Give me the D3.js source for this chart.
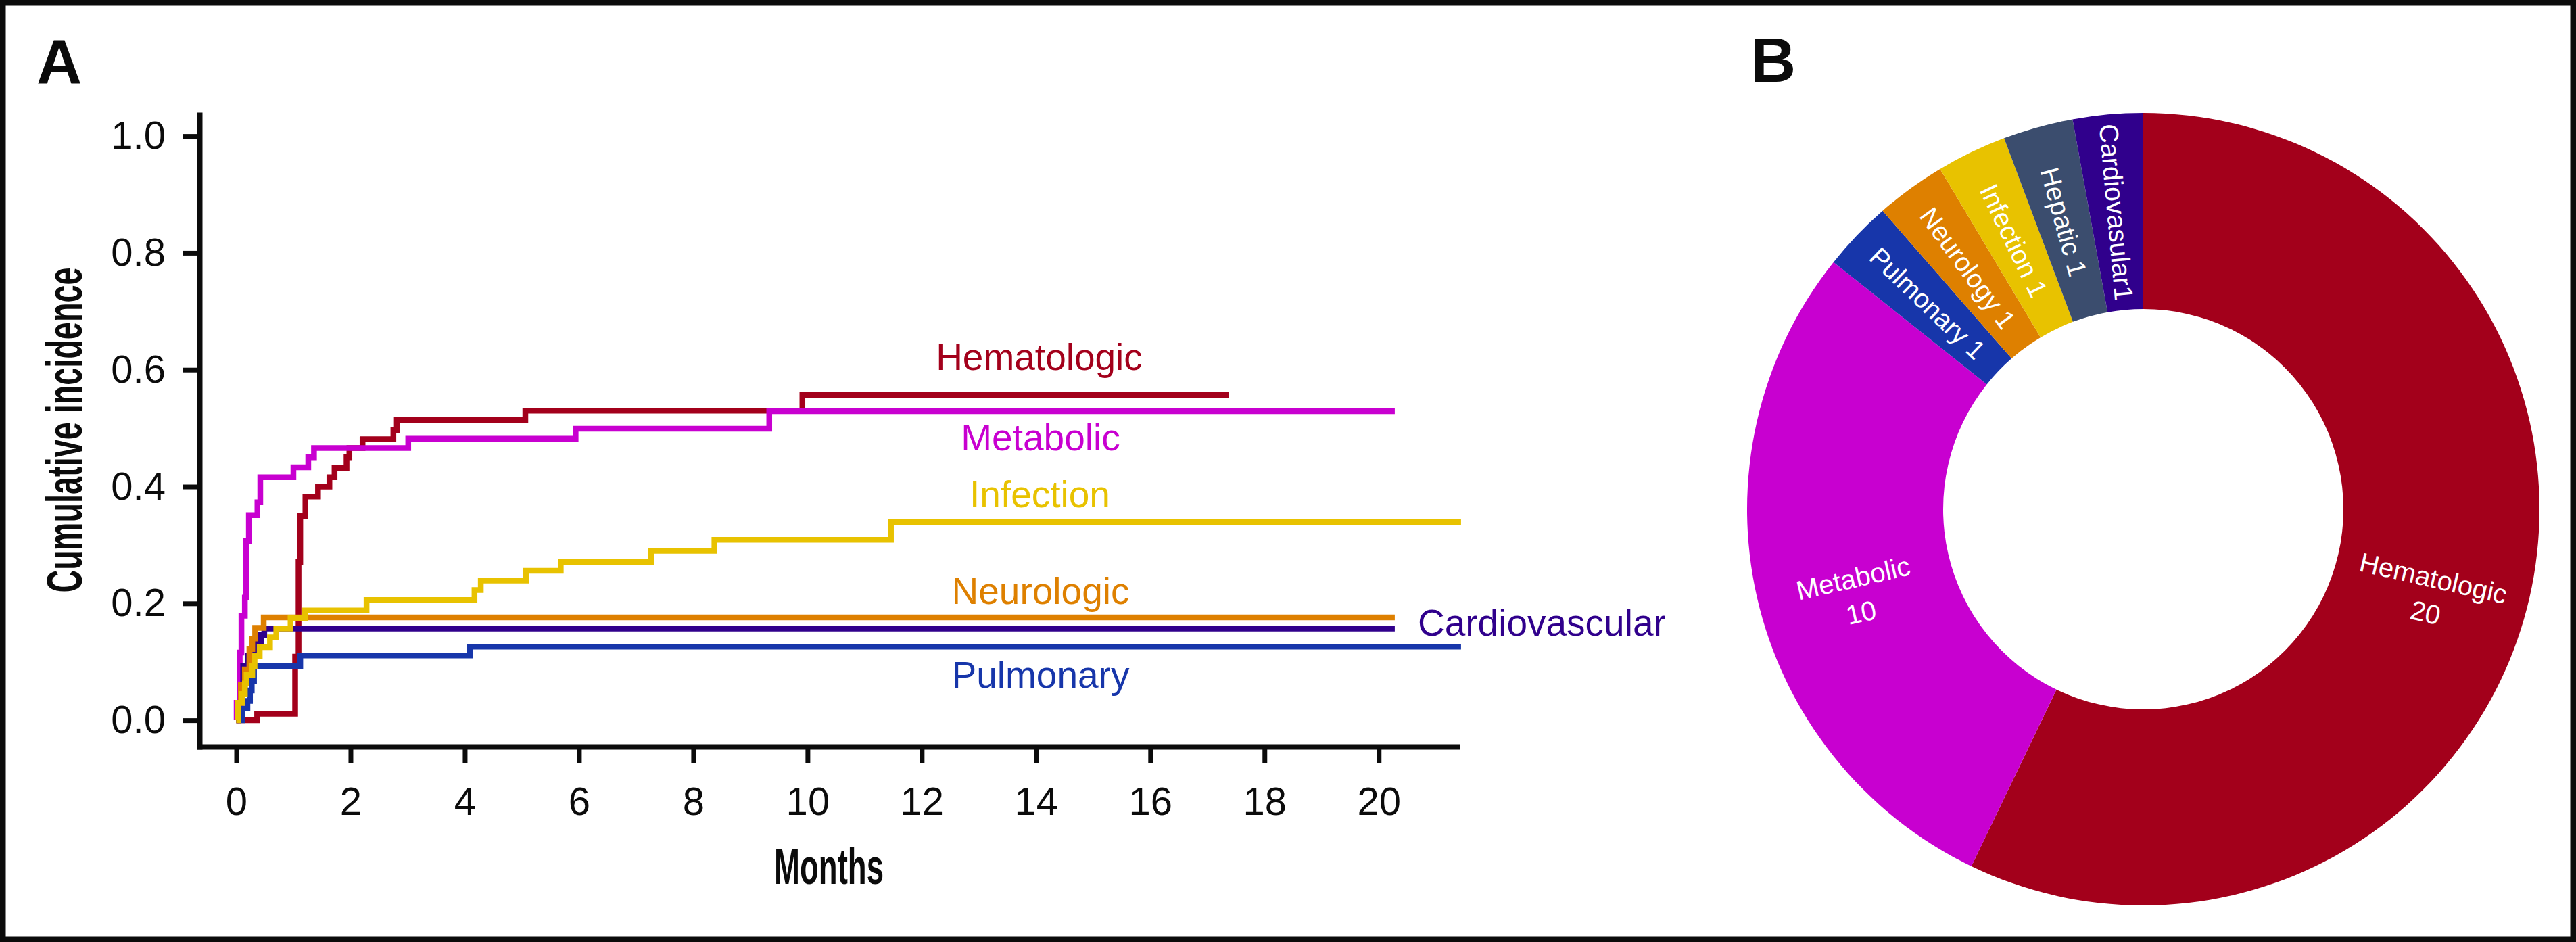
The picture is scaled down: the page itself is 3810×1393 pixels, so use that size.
<!DOCTYPE html>
<html>
<head>
<meta charset="utf-8">
<script src="https://cdn.jsdelivr.net/npm/d3@7"></script>
<style>
  html, body { margin: 0; padding: 0; background: #ffffff; }
  svg { display: block; }
  text { font-family: "Liberation Sans", Arial, Helvetica, sans-serif; }
  .cond { font-family: "Liberation Sans Narrow", "Arial Narrow", "Liberation Sans", sans-serif; font-weight: bold; }
</style>
</head>
<body>
<script>
// ---------------- DATA ----------------
// Panel A: cumulative incidence step curves, [month, value after step]
const hematologic = [[0,0],[0.365,0.011],[1.03,0.109],[1.09,0.271],[1.12,0.35],[1.21,0.383],[1.43,0.40],[1.63,0.416],[1.72,0.432],[1.93,0.45],[1.98,0.466],[2.21,0.481],[2.75,0.497],[2.81,0.514],[5.06,0.530],[9.91,0.557],[17.37,0.557]];
const metabolic = [[0,0],[0.006,0.03],[0.06,0.116],[0.09,0.179],[0.15,0.21],[0.17,0.307],[0.22,0.351],[0.37,0.373],[0.42,0.416],[1.0,0.433],[1.26,0.45],[1.36,0.466],[3.01,0.482],[5.94,0.499],[9.33,0.529],[20.28,0.529]];
const pulmonary = [[0,0],[0.1,0.02],[0.195,0.033],[0.24,0.051],[0.27,0.067],[0.31,0.093],[1.12,0.111],[4.09,0.126],[21.44,0.126]];
const cardiovascular = [[0,0],[0.03,0.03],[0.08,0.06],[0.12,0.093],[0.2,0.11],[0.33,0.134],[0.43,0.146],[0.49,0.157],[20.28,0.157]];
const neurologic = [[0,0],[0.03,0.03],[0.08,0.06],[0.15,0.087],[0.23,0.122],[0.28,0.14],[0.33,0.158],[0.48,0.176],[20.28,0.176]];
const infection = [[0,0],[0.03,0.03],[0.1,0.045],[0.15,0.063],[0.18,0.078],[0.28,0.093],[0.32,0.11],[0.41,0.125],[0.59,0.142],[0.70,0.157],[0.95,0.175],[1.20,0.188],[2.28,0.206],[4.17,0.223],[4.28,0.239],[5.07,0.256],[5.68,0.271],[7.26,0.29],[8.37,0.309],[11.46,0.339],[21.44,0.339]];

const seriesNames = ["Hematologic","Metabolic","Pulmonary","Cardiovascular","Neurologic","Infection"];
const seriesColors = ["#a3001b","#c800d0","#1736aa","#30008c","#de8000","#e8c200"];
const seriesData = [hematologic, metabolic, pulmonary, cardiovascular, neurologic, infection];

const xTicks = [0,2,4,6,8,10,12,14,16,18,20];
const yTicks = [0.0,0.2,0.4,0.6,0.8,1.0];

// Panel B: donut counts
const donutCategories = ["Hematologic","Metabolic","Pulmonary","Neurology","Infection","Hepatic","Cardiovasular"];
const donutValues = [20,10,1,1,1,1,1];
const donutColors = ["#a3001b","#c800d0","#1736aa","#de8000","#e8c200","#3b4d6e","#30008c"];

// ---------------- DRAW ----------------
const W = 3810, H = 1393;
const svg = d3.select("body").append("svg").attr("width", W).attr("height", H);
svg.append("rect").attr("x",0).attr("y",0).attr("width",W).attr("height",H).attr("fill","#fff");

// Panel letters
svg.append("text").attr("x",54).attr("y",123).attr("font-size",93).attr("font-weight","bold").attr("fill","#0b0b0b").text("A");
svg.append("text").attr("x",2589).attr("y",121).attr("font-size",93).attr("font-weight","bold").attr("fill","#0b0b0b").text("B");

// Scales
const x = d3.scaleLinear().domain([-0.645, 21.37]).range([295, 2155]);
const y = d3.scaleLinear().domain([-0.045, 1.036]).range([1104, 170]);

// Axes
const yAxis = svg.append("g").attr("transform","translate(295,0)")
  .call(d3.axisLeft(y).tickValues(yTicks).tickFormat(d3.format(".1f")).tickSize(24).tickSizeOuter(0).tickPadding(26));
const xAxis = svg.append("g").attr("transform","translate(0,1104)")
  .call(d3.axisBottom(x).tickValues(xTicks).tickFormat(d3.format("d")).tickSize(24).tickSizeOuter(0).tickPadding(36));
[yAxis, xAxis].forEach(g => {
  g.select(".domain").attr("stroke","#0b0b0b").attr("stroke-width",8).attr("stroke-linecap","square");
  g.selectAll(".tick line").attr("stroke","#0b0b0b").attr("stroke-width",7);
  g.selectAll(".tick text").attr("font-size",58).attr("fill","#0b0b0b")
    .attr("font-family","'Liberation Sans', Arial, sans-serif");
});

// Axis titles
svg.append("text").attr("class","cond")
  .attr("transform","translate(121,636) rotate(-90)")
  .attr("text-anchor","middle").attr("font-size",75).attr("fill","#0b0b0b")
  .attr("textLength",481).attr("lengthAdjust","spacingAndGlyphs")
  .text("Cumulative incidence");
svg.append("text").attr("class","cond")
  .attr("x",1226).attr("y",1307)
  .attr("text-anchor","middle").attr("font-size",75).attr("fill","#0b0b0b")
  .attr("textLength",162).attr("lengthAdjust","spacingAndGlyphs")
  .text("Months");

// Curves
const line = d3.line().x(d => x(d[0])).y(d => y(d[1])).curve(d3.curveStepAfter);
seriesData.forEach((s, i) => {
  svg.append("path").datum(s)
    .attr("d", line)
    .attr("fill","none")
    .attr("stroke", seriesColors[i])
    .attr("stroke-width", 8.5)
    .attr("stroke-linejoin","miter")
    .attr("stroke-linecap","butt");
});

// Series labels
const labelPos = {
  "Hematologic":   {x:1537, y:547, anchor:"middle"},
  "Metabolic":     {x:1539, y:666, anchor:"middle"},
  "Infection":     {x:1538, y:750, anchor:"middle"},
  "Neurologic":    {x:1539, y:893, anchor:"middle"},
  "Pulmonary":     {x:1539, y:1017, anchor:"middle"},
  "Cardiovascular":{x:2097, y:940, anchor:"start"}
};
seriesNames.forEach((n, i) => {
  const p = labelPos[n];
  svg.append("text").attr("x",p.x).attr("y",p.y).attr("text-anchor",p.anchor)
    .attr("font-size",55).attr("fill",seriesColors[i]).text(n);
});

// Donut
const cx = 3170, cy = 753, rOuter = 586, rInner = 296;
const pie = d3.pie().sort(null).value(d => d)(donutValues);
const arc = d3.arc().innerRadius(rInner).outerRadius(rOuter);
const dg = svg.append("g").attr("transform",`translate(${cx},${cy})`);
dg.selectAll("path.slice").data(pie).enter().append("path")
  .attr("class","slice")
  .attr("d", arc)
  .attr("fill", (d,i) => donutColors[i]);

pie.forEach((d, i) => {
  const c = arc.centroid(d);
  const aDeg = (d.startAngle + d.endAngle) / 2 * 180 / Math.PI;
  if (donutValues[i] >= 5) {
    const rot = aDeg < 180 ? aDeg - 90 : aDeg - 270;
    const t = dg.append("text")
      .attr("transform",`translate(${c[0]},${c[1]}) rotate(${rot})`)
      .attr("text-anchor","middle").attr("font-size",40).attr("fill","#fff");
    t.append("tspan").attr("x",0).attr("y",18).text(donutCategories[i]);
    t.append("tspan").attr("x",0).attr("y",70).text(donutValues[i]);
  } else {
    const rot = aDeg + 90;
    const sep = donutCategories[i] === "Cardiovasular" ? "" : " ";
    dg.append("text")
      .attr("transform",`translate(${c[0]},${c[1]}) rotate(${rot})`)
      .attr("text-anchor","middle").attr("dy","0.36em")
      .attr("font-size",39).attr("fill","#fff")
      .text(donutCategories[i] + sep + donutValues[i]);
  }
});

// Outer frame
svg.append("rect").attr("x",4).attr("y",4).attr("width",W-8).attr("height",H-8)
  .attr("fill","none").attr("stroke","#0b0b0b").attr("stroke-width",9);
</script>
</body>
</html>
